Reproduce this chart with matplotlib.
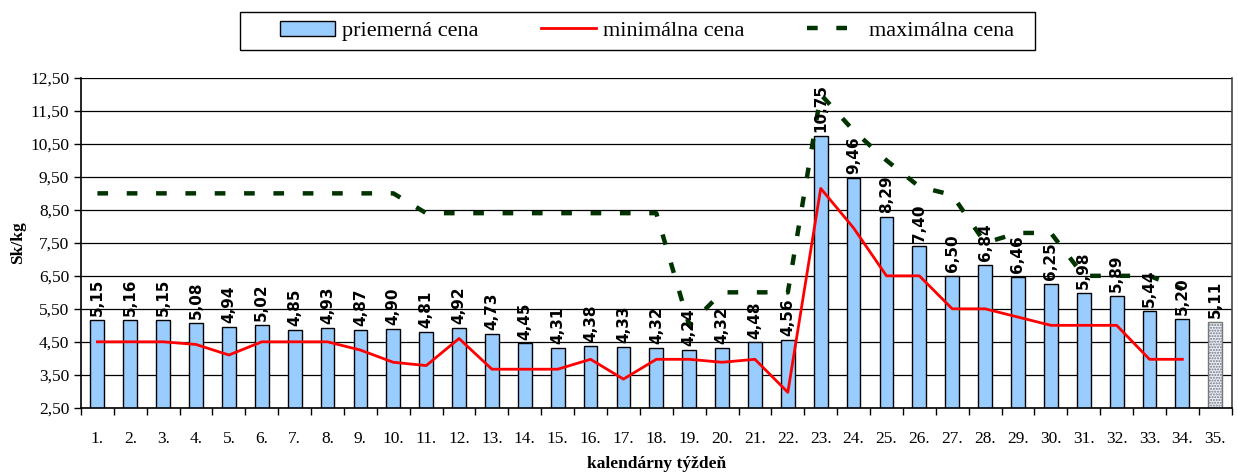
import numpy as np
import matplotlib
matplotlib.use("Agg")
import matplotlib.pyplot as plt
from matplotlib.ticker import FixedLocator
from matplotlib.patches import Rectangle

# tyzdne a ceny
tyzdne = [f"{i}." for i in range(1, 36)]
priemerna = [5.15, 5.16, 5.15, 5.08, 4.94, 5.02, 4.85, 4.93, 4.87, 4.90,
             4.81, 4.92, 4.73, 4.45, 4.31, 4.38, 4.33, 4.32, 4.24, 4.32,
             4.48, 4.56, 10.75, 9.46, 8.29, 7.40, 6.50, 6.84, 6.46, 6.25,
             5.98, 5.89, 5.44, 5.20, 5.11]
minimalna = [4.5, 4.5, 4.5, 4.42, 4.1, 4.5, 4.5, 4.5, 4.25, 3.88,
             3.78, 4.6, 3.67, 3.67, 3.67, 3.97, 3.37, 3.97, 3.97, 3.88,
             3.97, 2.97, 9.15, 7.95, 6.5, 6.5, 5.5, 5.5, 5.25, 5.0,
             5.0, 5.0, 3.97, 3.97]
maximalna = [9.0, 9.0, 9.0, 9.0, 9.0, 9.0, 9.0, 9.0, 9.0, 9.0,
             8.4, 8.4, 8.4, 8.4, 8.4, 8.4, 8.4, 8.4, 5.0, 6.0,
             6.0, 6.0, 12.0, 10.9, 10.0, 9.2, 8.95, 7.5, 7.8, 7.8,
             6.5, 6.5, 6.5, 6.1]
yticky = [2.5, 3.5, 4.5, 5.5, 6.5, 7.5, 8.5, 9.5, 10.5, 11.5, 12.5]

serif = "Liberation Serif"
W, H = 1238, 472

fig = plt.figure(figsize=(W / 100, H / 100), dpi=100)
ax = fig.add_axes([0.0654, 0.136, 0.9295, 0.699])

x = np.arange(len(priemerna))
farby = ["#99ccff"] * (len(priemerna) - 1) + ["#e8f0fb"]
bars = ax.bar(x, priemerna, width=0.42, color=farby,
              edgecolor="black", linewidth=1.0, zorder=2,
              label="priemerná cena")
bars[-1].set_hatch("......")
bars[-1].set_edgecolor("#777777")

l1, = ax.plot(np.arange(len(minimalna)), minimalna, color="red", lw=2,
              zorder=3, label="minimálna cena")
l2, = ax.plot(np.arange(len(maximalna)), maximalna, color="#003300", lw=3.2,
              linestyle=(0, (2.4, 4.2)), zorder=3, label="maximálna cena")

for xi, v in zip(x, priemerna):
    ax.text(xi, v + 0.12, f"{v:.2f}".replace(".", ","), rotation=90,
            ha="center", va="bottom", fontsize=11, fontweight="bold",
            family="DejaVu Sans", zorder=4)

ax.set_ylim(2.5, 12.5)
ax.set_xlim(-0.5, len(priemerna) - 0.5)
ax.set_yticks(yticky)
ax.set_yticklabels([f"{v:.2f}".replace(".", ",") for v in yticky],
                   family=serif, fontsize=12.5)
ax.yaxis.grid(True, color="black", lw=0.9, zorder=0)
ax.set_axisbelow(True)

ax.set_xticks(x)
ax.set_xticklabels(tyzdne, family=serif, fontsize=12.5)
ax.tick_params(axis="x", which="major", length=0, pad=17)
ax.xaxis.set_minor_locator(FixedLocator(np.arange(-0.5, len(priemerna), 1)))
ax.tick_params(axis="x", which="minor", length=5, width=1, direction="out")
ax.tick_params(axis="y", length=5, width=1)

for s in ax.spines.values():
    s.set_linewidth(1.2)
ax.spines["top"].set_visible(False)
ax.spines["right"].set_color("#444444")

ax.set_ylabel("Sk/kg", family=serif, fontweight="bold", fontsize=12.5,
              labelpad=3)
ax.set_xlabel("kalendárny týždeň", family=serif, fontweight="bold",
              fontsize=12.5, labelpad=6)

# legenda bez ramceka, ramcek zvlast
leg = fig.legend(handles=[bars, l1, l2], loc="center",
                 bbox_to_anchor=(647 / W, 1 - 31 / H), ncol=3,
                 frameon=False, prop={"family": serif, "size": 16},
                 columnspacing=2.8, handlelength=2.5, handletextpad=0.3,
                 handleheight=0.65)
fig.patches.append(Rectangle((240 / W, 1 - 50 / H), 795 / W, 38 / H,
                             transform=fig.transFigure, fill=False,
                             edgecolor="black", lw=1.0))

fig.savefig("out.png", dpi=100)
